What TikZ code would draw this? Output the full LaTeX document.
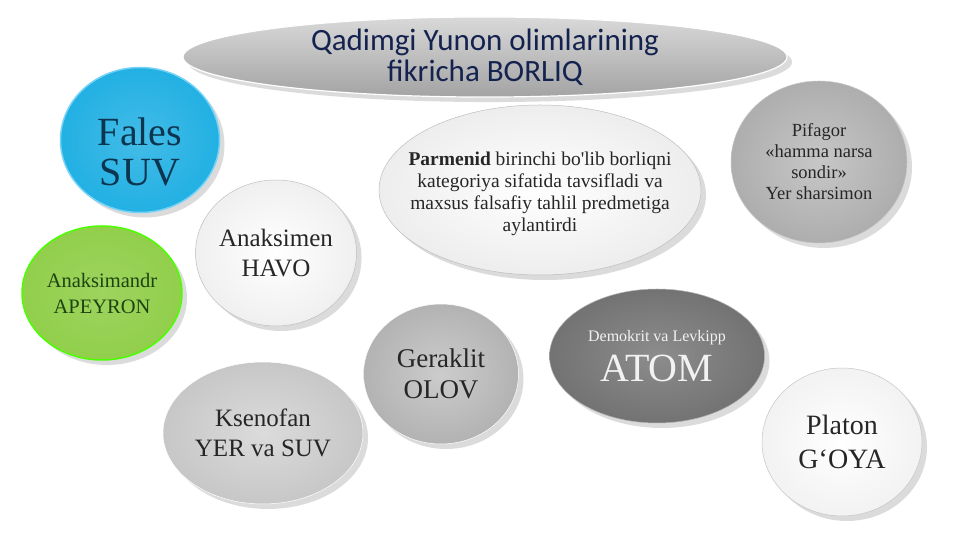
\documentclass[tikz,border=0pt]{standalone}
\usepackage{fontspec}
\setmainfont{Liberation Serif}
\newfontfamily\titlefont{Carlito}
\usetikzlibrary{shapes.geometric,shadows,backgrounds}
\definecolor{navy}{HTML}{14224F}
\definecolor{falescol}{HTML}{22B0E3}
\definecolor{falestxt}{HTML}{0C3650}
\definecolor{grncol}{HTML}{92CF4C}
\definecolor{grntxt}{HTML}{1D4410}
\begin{document}
\begin{tikzpicture}[x=1pt,y=1pt,
  bub/.style={ellipse, inner sep=0pt, align=center,
    drop shadow={opacity=0.28, shadow xshift=5pt, shadow yshift=-5pt}},
  link/.style={draw=black!11, line width=0.6pt}]
\useasboundingbox[fill=white] (0,0) rectangle (960,540);

% title
\node[bub, minimum width=604, minimum height=80, draw=white, line width=1.2pt,
  top color=black!15, bottom color=black!36, font=\titlefont\fontsize{31}{31}\selectfont,
  text=navy] (title) at (485,483) {Qadimgi Yunon olimlarining\\fikricha BORLIQ};

% bubbles
\node[bub, minimum width=159, minimum height=145, draw=cyan!55, line width=1.5pt,
  inner color=falescol!85, outer color=falescol] (fales) at (140,400) {};
\node[align=center, text=falestxt, font=\fontsize{40}{40}\selectfont]
  (falestext) at ([yshift=-12]fales.center) {Fales\\SUV};

\node[bub, minimum width=160, minimum height=134, draw=green!60!lime, line width=1.5pt,
  inner color=grncol!90, outer color=grncol, text=grntxt,
  font=\fontsize{20.5}{26}\selectfont] (anaksimandr) at (102,247) {Anaksimandr\\APEYRON};

\node[bub, minimum width=158, minimum height=146, draw=black!25, line width=0.5pt,
  inner color=white, outer color=black!6, text=black!85,
  font=\fontsize{25}{30}\selectfont] (anaksimen) at (276,287) {Anaksimen\\HAVO};

\node[bub, minimum width=322, minimum height=170, draw=black!25, line width=0.5pt,
  inner color=white, outer color=black!7] (parmenid) at (540,350) {};
\node[align=center, text=black!85, font=\fontsize{19.5}{22}\selectfont]
  (parmenidtext) at ([yshift=-4]parmenid.center)
  {\textbf{Parmenid} birinchi bo\textquotesingle lib borliqni\\kategoriya sifatida tavsifladi va\\maxsus falsafiy tahlil predmetiga\\aylantirdi};

\node[bub, minimum width=176, minimum height=162, draw=black!22, line width=0.5pt,
  inner color=black!22, outer color=black!32, text=black!85,
  font=\fontsize{18.5}{21}\selectfont] (pifagor) at (819,378)
  {Pifagor\\«hamma narsa\\sondir»\\Yer sharsimon};

\node[bub, minimum width=200, minimum height=142, draw=white, line width=0.5pt,
  inner color=black!14, outer color=black!22, text=black!85,
  font=\fontsize{25}{30}\selectfont] (ksenofan) at (263,107) {Ksenofan\\YER va SUV};

\node[bub, minimum width=155, minimum height=140, draw=white, line width=0.5pt,
  inner color=black!20, outer color=black!30, text=black!85,
  font=\fontsize{27}{31}\selectfont] (geraklit) at (441,166) {Geraklit\\OLOV};

\node[bub, minimum width=215, minimum height=134, draw=black!30, line width=0.5pt,
  inner color=black!45, outer color=black!55, text=black!5,
  font=\fontsize{16}{16}\selectfont] (demokrit) at (657,184)
  {Demokrit va Levkipp\\[9pt]{\fontsize{40}{40}\selectfont ATOM}};

\node[bub, minimum width=160, minimum height=148, draw=black!22, line width=0.5pt,
  inner color=white, outer color=black!5, text=black!85,
  font=\fontsize{28}{34}\selectfont] (platon) at (842,98) {Platon\\G‘OYA};

% faint background links
\begin{pgfonlayer}{background}
  \draw[link] (fales) -- (anaksimen);
  \draw[link] (fales) -- (anaksimandr);
  \draw[link] (anaksimandr) -- (ksenofan);
  \draw[link] (anaksimen) -- (parmenid);
  \draw[link] (anaksimen) -- (geraklit);
  \draw[link] (parmenid) -- (pifagor);
  \draw[link] (parmenid) -- (demokrit);
  \draw[link] (pifagor) -- (demokrit);
  \draw[link] (geraklit) -- (demokrit);
  \draw[link] (demokrit) -- (platon);
  \draw[link] (ksenofan) -- (geraklit);
\end{pgfonlayer}
\end{tikzpicture}
\end{document}
